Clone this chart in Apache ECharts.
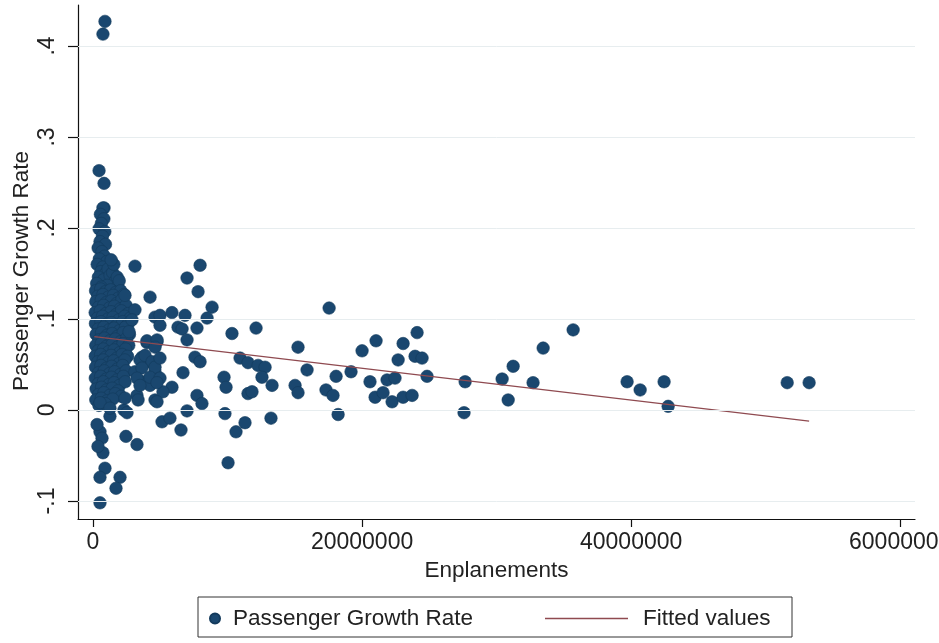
<!DOCTYPE html>
<html>
<head>
<meta charset="utf-8">
<script src="https://cdn.jsdelivr.net/npm/echarts@6/dist/echarts.min.js"></script>
<style>html,body{margin:0;padding:0;background:#fff;overflow:hidden;}#c{width:939px;height:643px;}</style>
</head>
<body>
<div id="c"></div>
<script>
// ---- tick values and labels ----
var xTicks = [0, 20000000, 40000000, 60000000];
var xTickLabels = ['0', '20000000', '40000000', '60000000'];
var yTicks = [-0.1, 0, 0.1, 0.2, 0.3, 0.4];
var yTickLabels = ['-.1', '0', '.1', '.2', '.3', '.4'];

// ---- series: Passenger Growth Rate vs Enplanements ----
var outlierPoints = [
  [0.89e6,0.427],[0.74e6,0.413],[0.45e6,0.263],[0.82e6,0.249],[0.82e6,0.222]
];
var clusterTop = [
  [0.74e6,0.222],[0.55e6,0.215],[0.81e6,0.210],[0.62e6,0.205],[0.45e6,0.199],[0.88e6,0.196],
  [0.70e6,0.191],[0.52e6,0.185],[0.93e6,0.182],[0.38e6,0.178],[0.66e6,0.174],[0.85e6,0.169],
  [0.47e6,0.166],[1.02e6,0.163],[0.31e6,0.160],[0.73e6,0.157],[0.58e6,0.152],[0.94e6,0.150],
  [1.12e6,0.155],[0.40e6,0.146],[0.79e6,0.143],[1.27e6,0.148],[1.46e6,0.151],[1.63e6,0.141],
  [0.27e6,0.139],[1.06e6,0.137],[0.61e6,0.135],[1.85e6,0.136],[1.55e6,0.160],[1.35e6,0.165],
  [1.80e6,0.146],[1.95e6,0.142]
];
var clusterCore = [
  [0.19e6,0.131],[0.57e6,0.133],[0.93e6,0.130],[1.31e6,0.132],[1.68e6,0.129],[2.06e6,0.131],
  [0.36e6,0.125],[0.74e6,0.127],[1.13e6,0.124],[1.52e6,0.126],[1.89e6,0.123],[2.31e6,0.127],
  [0.21e6,0.119],[0.61e6,0.121],[0.99e6,0.118],[1.37e6,0.120],[1.76e6,0.117],[2.14e6,0.121],
  [0.41e6,0.113],[0.79e6,0.115],[1.21e6,0.112],[1.59e6,0.114],[2.01e6,0.111],[2.46e6,0.115],
  [0.16e6,0.107],[0.54e6,0.109],[0.96e6,0.106],[1.34e6,0.108],[1.73e6,0.105],[2.11e6,0.109],[2.61e6,0.106],
  [0.33e6,0.101],[0.71e6,0.103],[1.11e6,0.100],[1.49e6,0.102],[1.91e6,0.099],[2.36e6,0.103],[2.76e6,0.101],
  [0.18e6,0.095],[0.59e6,0.097],[0.97e6,0.094],[1.37e6,0.096],[1.77e6,0.093],[2.21e6,0.097],[2.63e6,0.095],
  [0.39e6,0.089],[0.81e6,0.091],[1.19e6,0.088],[1.56e6,0.090],[1.96e6,0.087],[2.41e6,0.091],
  [0.23e6,0.083],[0.63e6,0.085],[1.03e6,0.082],[1.43e6,0.084],[1.83e6,0.081],[2.24e6,0.085],[2.71e6,0.083],
  [0.43e6,0.077],[0.86e6,0.079],[1.26e6,0.076],[1.66e6,0.078],[2.04e6,0.075],[2.51e6,0.079],
  [0.21e6,0.071],[0.61e6,0.073],[1.01e6,0.070],[1.41e6,0.072],[1.81e6,0.069],[2.23e6,0.073],[2.66e6,0.071],
  [0.37e6,0.065],[0.77e6,0.067],[1.17e6,0.064],[1.57e6,0.066],[1.99e6,0.063],[2.43e6,0.067],
  [0.17e6,0.059],[0.57e6,0.061],[0.95e6,0.058],[1.35e6,0.060],[1.77e6,0.057],[2.17e6,0.061],[2.57e6,0.059],
  [0.36e6,0.053],[0.76e6,0.055],[1.14e6,0.052],[1.54e6,0.054],[1.94e6,0.051],[2.37e6,0.055],
  [0.19e6,0.047],[0.59e6,0.049],[1.01e6,0.046],[1.39e6,0.048],[1.81e6,0.045],[2.21e6,0.049],
  [0.41e6,0.041],[0.83e6,0.043],[1.23e6,0.040],[1.61e6,0.042],[2.03e6,0.039],[2.46e6,0.043],
  [0.17e6,0.035],[0.57e6,0.037],[0.99e6,0.034],[1.37e6,0.036],[1.79e6,0.033],[2.26e6,0.037],
  [0.39e6,0.029],[0.77e6,0.031],[1.19e6,0.028],[1.57e6,0.030],[1.97e6,0.027],[2.39e6,0.031],
  [0.23e6,0.023],[0.63e6,0.025],[1.01e6,0.022],[1.43e6,0.024],[1.86e6,0.021],
  [0.41e6,0.017],[0.81e6,0.019],[1.24e6,0.016],[1.66e6,0.018],[2.09e6,0.015],
  [0.21e6,0.011],[0.61e6,0.013],[1.04e6,0.010],[1.47e6,0.012],
  [0.44e6,0.005],[0.91e6,0.007]
];
var clusterEdge = [
  [3.12e6,0.110],[2.90e6,0.099],[2.68e6,0.086],[4.76e6,0.075],[4.01e6,0.074],[3.64e6,0.058],
  [4.16e6,0.053],[4.61e6,0.042],[3.12e6,0.042],[3.64e6,0.031],[4.24e6,0.027],[3.27e6,0.016],
  [4.61e6,0.011],[4.61e6,0.102],[2.38e6,0.126],
  [0.52e6,0.008],[1.26e6,-0.007],[0.52e6,-0.024],[0.67e6,-0.031],[0.74e6,-0.047],[0.89e6,-0.064],
  [0.52e6,-0.074],[2.01e6,-0.074],[1.71e6,-0.086],[0.52e6,-0.102],[1.26e6,0.002],[2.30e6,0.000],
  [2.38e6,0.013],[0.30e6,-0.016],[0.37e6,-0.040]
];
var sparsePoints = [
  [3.12e6,0.158],[7.96e6,0.159],[6.99e6,0.145],[7.81e6,0.130],[4.24e6,0.124],[8.85e6,0.113],
  [8.48e6,0.101],[4.98e6,0.104],[5.87e6,0.107],[6.84e6,0.104],[6.32e6,0.091],[4.98e6,0.093],
  [7.73e6,0.090],[6.62e6,0.089],[10.33e6,0.084],[12.12e6,0.090],[4.01e6,0.076],[4.76e6,0.077],
  [4.61e6,0.069],[6.99e6,0.077],[3.49e6,0.055],[3.87e6,0.060],[4.39e6,0.053],[4.61e6,0.047],
  [4.98e6,0.057],[3.64e6,0.046],[7.58e6,0.058],[7.96e6,0.053],[6.69e6,0.041],[9.74e6,0.036],
  [9.89e6,0.025],[11.52e6,0.018],[11.82e6,0.020],[4.24e6,0.036],[4.98e6,0.035],[3.27e6,0.035],
  [3.49e6,0.027],[5.87e6,0.025],[5.20e6,0.020],[4.76e6,0.030],[3.35e6,0.011],[7.73e6,0.016],
  [8.10e6,0.007],[4.76e6,0.009],[6.99e6,-0.001],[9.81e6,-0.004],[2.53e6,-0.003],[5.13e6,-0.013],
  [5.72e6,-0.009],[6.54e6,-0.022],[11.30e6,-0.014],[10.63e6,-0.024],[2.45e6,-0.029],[3.27e6,-0.038],
  [10.04e6,-0.058],[15.24e6,0.069],[10.93e6,0.057],[11.52e6,0.052],[12.27e6,0.049],[12.79e6,0.047],
  [15.91e6,0.044],[18.07e6,0.037],[19.18e6,0.042],[20.00e6,0.065],[21.04e6,0.076],[23.05e6,0.073],
  [24.09e6,0.085],[22.68e6,0.055],[23.94e6,0.059],[24.46e6,0.057],[24.83e6,0.037],[12.56e6,0.036],
  [13.31e6,0.027],[15.02e6,0.027],[15.24e6,0.019],[17.32e6,0.022],[17.84e6,0.016],[20.59e6,0.031],
  [21.86e6,0.033],[22.45e6,0.035],[20.97e6,0.014],[21.56e6,0.019],[22.23e6,0.009],[23.05e6,0.014],
  [23.72e6,0.016],[13.23e6,-0.009],[18.22e6,-0.005],[17.55e6,0.112],[27.66e6,0.031],[27.58e6,-0.003],
  [30.41e6,0.034],[31.23e6,0.048],[30.86e6,0.011],[32.71e6,0.030],[33.46e6,0.068],[35.69e6,0.088],
  [39.70e6,0.031],[40.67e6,0.022],[42.45e6,0.031],[42.75e6,0.004],[51.60e6,0.030],[53.23e6,0.030]
];
// ---- fitted values (linear fit endpoints) ----
var fitX = [0.10e6, 53.23e6];
var fitY = [0.0806, -0.0122];

var scatterData = outlierPoints.concat(clusterTop, clusterCore, clusterEdge, sparsePoints);
var fitData = fitX.map(function (x, i) { return [x, fitY[i]]; });

function lookup(ticks, labels) {
  return function (v) {
    for (var i = 0; i < ticks.length; i++) {
      if (Math.abs(ticks[i] - v) < 1e-9 * Math.max(1, Math.abs(ticks[i]))) return labels[i];
    }
    return '';
  };
}

var FONT = "'Liberation Sans', Arial, Helvetica, sans-serif";
var chart = echarts.init(document.getElementById('c'), null, {renderer: 'canvas'});
chart.setOption({
  animation: false,
  backgroundColor: '#ffffff',
  textStyle: {fontFamily: FONT},
  grid: {left: 78, right: 24, top: 5, bottom: 124, containLabel: false, outerBoundsMode: 'none'},
  xAxis: {
    type: 'value',
    min: -1.115e6,
    max: 61.1e6,
    name: 'Enplanements',
    nameLocation: 'middle',
    nameGap: 40,
    nameMoveOverlap: false,
    nameTextStyle: {fontSize: 22.5, color: '#222', fontFamily: FONT},
    axisLine: {show: true, onZero: false, lineStyle: {color: '#111', width: 1.2}},
    axisTick: {show: true, length: 8, customValues: xTicks, lineStyle: {color: '#111', width: 1.2}},
    axisLabel: {show: true, customValues: xTicks, formatter: lookup(xTicks, xTickLabels),
      fontSize: 23, color: '#222', margin: 12, fontFamily: FONT},
    splitLine: {show: false}
  },
  yAxis: {
    type: 'value',
    min: -0.1198,
    max: 0.445,
    name: 'Passenger Growth Rate',
    nameLocation: 'middle',
    nameGap: 45,
    nameRotate: 90,
    nameMoveOverlap: false,
    nameTextStyle: {fontSize: 22.5, color: '#222', fontFamily: FONT, padding: [0, 18, 0, 0]},
    axisLine: {show: true, onZero: false, lineStyle: {color: '#111', width: 1.2}},
    axisTick: {show: true, length: 10, customValues: yTicks, lineStyle: {color: '#111', width: 1.2}},
    axisLabel: {show: true, customValues: yTicks, formatter: lookup(yTicks, yTickLabels),
      rotate: 90, fontSize: 23, color: '#222', margin: 19, fontFamily: FONT},
    splitLine: {show: false}
  },
  legend: [
    {
      data: [{name: 'Passenger Growth Rate', icon: 'circle'}],
      left: 209, top: 607, padding: 0,
      itemWidth: 10, itemHeight: 10,
      selectedMode: false,
      textStyle: {fontSize: 22.5, color: '#222', fontFamily: FONT, padding: [0, 0, 0, 8]}
    },
    {
      data: [{name: 'Fitted values', icon: 'rect', itemStyle: {color: '#8f4a50'}}],
      left: 545, top: 607, padding: 0,
      itemWidth: 83, itemHeight: 1.5,
      selectedMode: false,
      textStyle: {fontSize: 22.5, color: '#222', fontFamily: FONT, padding: [0, 0, 0, 10]}
    }
  ],
  graphic: [{
    type: 'rect', silent: true,
    shape: {x: 198, y: 597, width: 594, height: 40},
    style: {fill: 'none', stroke: '#333', lineWidth: 1}
  }],
  series: [
    {
      name: 'grid', type: 'line', data: [], z: 0, silent: true,
      markLine: {
        silent: true, symbol: 'none', label: {show: false},
        lineStyle: {color: '#e7edef', width: 1, type: 'solid'},
        data: yTicks.map(function (v) { return {yAxis: v}; })
      }
    },
    {
      name: 'Passenger Growth Rate', type: 'scatter', data: scatterData,
      symbol: 'circle', symbolSize: 12.5, z: 2,
      itemStyle: {color: '#1a476f', borderColor: '#133a5c', borderWidth: 0.6, opacity: 1}
    },
    {
      name: 'Fitted values', type: 'line', data: fitData, z: 3,
      showSymbol: false, symbol: 'none',
      lineStyle: {color: '#8f4a50', width: 1.3},
      itemStyle: {color: '#8f4a50'}
    }
  ]
});
</script>
</body>
</html>
